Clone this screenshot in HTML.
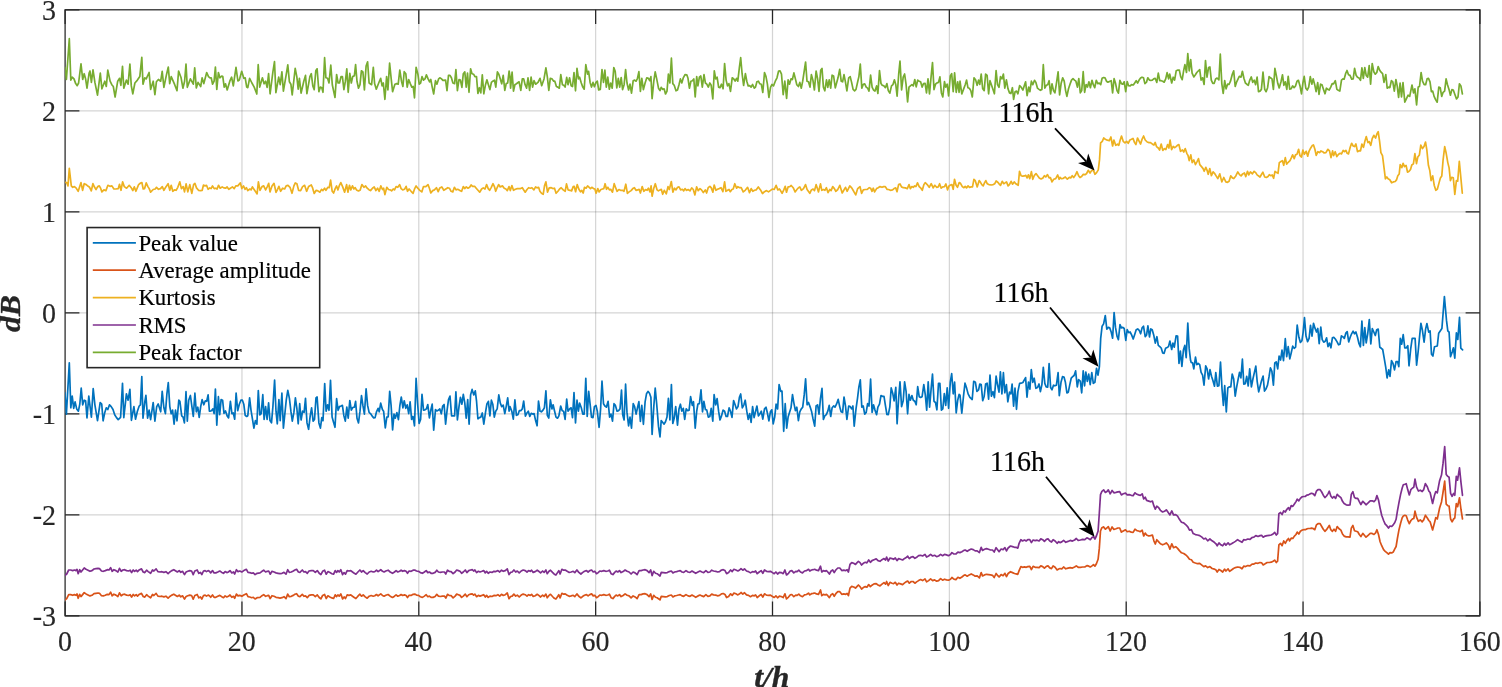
<!DOCTYPE html>
<html lang="en"><head><meta charset="utf-8"><title>Feature trends</title>
<style>html,body{margin:0;padding:0;background:#fff;overflow:hidden}svg{display:block}</style></head>
<body>
<svg width="1502" height="687" viewBox="0 0 1502 687" font-family="'Liberation Serif', serif">
<rect x="0" y="0" width="1502" height="687" fill="#fff"/>
<path d="M241.95 9.8V615.85M418.80 9.8V615.85M595.65 9.8V615.85M772.50 9.8V615.85M949.35 9.8V615.85M1126.20 9.8V615.85M1303.05 9.8V615.85" stroke="#262626" stroke-opacity="0.2" stroke-width="1.2" fill="none"/>
<path d="M65.1 514.84H1479.9M65.1 413.83H1479.9M65.1 312.83H1479.9M65.1 211.82H1479.9M65.1 110.81H1479.9" stroke="#262626" stroke-opacity="0.2" stroke-width="1.2" fill="none"/>
<rect x="65.1" y="9.8" width="1414.8000000000002" height="606.0500000000001" fill="none" stroke="#262626" stroke-width="1.25"/>
<path d="M241.95 615.85v-14.3M241.95 9.8v14.3M418.80 615.85v-14.3M418.80 9.8v14.3M595.65 615.85v-14.3M595.65 9.8v14.3M772.50 615.85v-14.3M772.50 9.8v14.3M949.35 615.85v-14.3M949.35 9.8v14.3M1126.20 615.85v-14.3M1126.20 9.8v14.3M1303.05 615.85v-14.3M1303.05 9.8v14.3M65.1 514.84h14.3M1479.9 514.84h-14.3M65.1 413.83h14.3M1479.9 413.83h-14.3M65.1 312.83h14.3M1479.9 312.83h-14.3M65.1 211.82h14.3M1479.9 211.82h-14.3M65.1 110.81h14.3M1479.9 110.81h-14.3M65.1 615.85h14.3M65.1 615.85v-14.3M65.1 9.8h14.3M65.1 9.8v14.3M1479.9 9.8h-14.3M1479.9 9.8v14.3M1479.9 615.85h-14.3M1479.9 615.85v-14.3" stroke="#262626" stroke-width="1.25" fill="none"/>
<clipPath id="c"><rect x="65.1" y="9.8" width="1414.8000000000002" height="606.0500000000001"/></clipPath>
<g clip-path="url(#c)" fill="none" stroke-width="1.7" stroke-linejoin="round" stroke-linecap="round">
<path d="M64.9 392.6L66.4 414.1L69.3 362.9L70.8 407.8L72.2 396.1L73.7 408.3L75.1 401.9L76.7 408.9L78.4 411.2L79.8 404.2L81.2 388.2L82.7 404.8L84.2 400.2L85.6 400.8L87.0 417.9L88.8 396.1L90.0 406.0L91.4 417.1L93.2 388.5L94.9 404.8L97.5 420.6L100.2 402.5L101.7 404.0L103.1 420.8L104.8 412.4L106.3 407.8L107.8 409.5L109.5 404.8L111.2 406.6L113.0 409.5L114.7 414.7L116.5 417.6L118.2 419.6L120.6 417.3L122.5 383.3L123.8 417.6L126.4 393.8L128.1 400.2L129.9 389.4L131.4 420.3L133.9 406.6L135.5 419.2L137.4 411.2L139.2 406.0L140.4 404.8L141.8 376.6L143.0 418.2L144.8 401.9L145.9 395.3L147.6 418.2L149.1 410.1L150.6 419.6L153.2 402.5L154.9 421.1L156.7 406.6L158.2 404.0L159.6 408.3L160.7 411.8L162.2 391.4L163.9 407.8L165.4 413.6L166.9 393.8L168.3 382.7L169.8 406.6L171.2 413.8L172.6 410.1L174.1 424.1L175.5 410.1L177.0 420.8L178.8 400.2L179.9 401.3L181.7 415.9L183.1 417.1L184.4 422.9L186.0 391.7L187.3 421.1L188.7 400.2L190.4 395.5L191.9 406.6L193.3 416.5L194.9 393.2L196.3 411.8L197.8 407.2L199.2 417.3L200.7 406.6L202.1 399.6L203.8 404.8L205.3 400.8L206.7 401.3L208.1 394.9L209.4 411.2L210.0 411.2L211.4 410.7L212.9 408.9L214.1 413.6L215.4 389.1L216.8 425.2L218.4 396.7L219.7 414.7L221.1 399.6L222.6 400.2L224.0 413.3L225.5 411.0L227.2 415.9L228.6 417.9L230.4 401.3L231.9 413.6L233.3 413.0L234.7 419.2L236.1 393.2L237.7 410.7L239.3 404.2L240.9 400.2L242.4 400.2L243.8 404.2L245.2 415.3L246.7 416.5L247.8 415.7L249.6 397.9L251.0 410.1L252.5 419.4L253.9 428.1L255.4 420.6L256.9 424.1L258.3 390.5L259.8 415.0L261.2 413.6L262.8 394.7L264.1 419.4L265.6 406.6L267.1 419.4L268.6 402.9L270.0 420.6L271.5 422.9L272.9 406.6L274.6 380.0L276.0 411.2L277.3 423.8L278.9 399.6L280.2 420.6L281.9 393.2L283.4 428.1L286.3 399.6L287.8 390.3L289.4 398.4L290.9 411.2L292.3 421.1L293.9 412.4L295.4 397.9L296.8 407.8L298.2 423.8L299.7 403.7L301.1 420.0L302.6 411.2L304.1 412.4L305.5 398.4L307.0 422.9L308.6 429.3L310.2 415.9L311.6 407.8L313.1 421.1L314.5 419.4L316.0 397.9L317.1 397.0L318.9 422.9L320.4 428.1L321.8 417.6L323.0 420.6L324.7 383.5L326.1 411.2L327.6 404.8L329.0 410.3L330.5 380.4L332.1 417.1L333.4 421.7L335.0 427.3L336.6 398.7L338.1 410.3L339.5 406.6L341.0 406.0L342.4 405.4L343.9 415.9L345.3 421.1L346.8 407.2L348.2 418.2L349.8 400.5L351.3 410.1L352.7 407.5L354.4 407.2L355.6 401.3L357.0 418.2L358.5 422.9L360.0 411.2L361.5 395.5L362.9 405.4L364.4 414.1L366.1 388.8L367.6 405.4L369.1 412.4L370.7 413.8L372.2 416.1L373.7 417.9L375.1 417.6L376.5 411.8L378.1 408.3L379.2 411.8L380.7 403.1L382.4 409.5L383.6 411.2L385.3 427.9L386.8 417.1L388.2 416.8L389.7 391.4L391.1 405.4L392.6 429.9L394.0 414.1L395.3 418.2L396.9 412.6L398.4 419.6L399.9 405.4L401.3 397.0L402.9 407.8L404.2 400.8L405.8 408.3L407.2 404.8L408.7 413.6L410.1 401.9L411.6 419.4L413.0 416.5L414.5 425.8L416.1 378.4L417.6 403.1L419.1 423.5L420.6 419.4L422.0 394.4L423.5 410.1L425.0 409.8L426.4 408.9L427.8 404.6L429.4 417.9L430.8 410.1L432.2 404.2L433.7 430.2L435.5 409.5L436.9 411.0L438.6 410.1L439.8 408.9L441.3 413.8L442.7 406.0L444.1 404.5L445.6 424.1L447.1 410.1L448.5 399.6L450.0 396.1L451.6 415.9L453.2 415.9L454.6 415.9L455.9 391.8L457.4 420.0L459.0 406.6L460.4 397.3L461.9 404.2L463.3 394.4L464.8 403.1L466.2 418.2L467.7 399.6L469.1 424.1L470.6 394.9L472.1 389.4L473.8 394.9L475.3 390.9L476.5 400.8L477.9 418.8L479.4 417.6L480.8 417.1L482.3 413.0L483.8 424.1L485.5 412.4L486.9 404.0L488.4 401.3L489.9 415.9L491.4 400.2L492.8 404.2L494.3 417.1L495.7 411.2L497.2 408.9L498.8 394.9L500.3 403.1L501.7 406.6L503.2 405.2L504.8 413.6L506.2 406.6L507.7 397.9L509.1 411.2L510.0 406.6L511.8 411.2L513.3 419.2L514.9 399.9L516.4 415.3L517.9 414.7L519.3 410.7L520.8 410.7L522.3 408.9L523.7 401.0L525.4 416.1L526.9 413.0L528.3 411.2L529.8 416.5L531.2 413.3L532.7 414.1L534.1 413.6L535.6 420.6L537.1 425.8L538.5 401.0L540.0 411.2L541.4 411.8L543.0 410.1L544.4 407.8L545.9 390.9L547.3 415.3L548.8 418.0L550.4 399.9L551.9 408.9L553.1 404.8L554.6 411.2L556.0 417.1L557.5 418.2L558.9 415.9L560.7 406.0L562.2 410.7L563.6 411.2L565.1 419.4L566.7 399.0L568.0 411.2L569.6 408.9L571.1 407.8L572.5 417.6L574.0 392.6L575.5 422.9L577.0 400.2L578.4 411.2L579.6 403.1L581.3 407.8L582.8 414.1L584.2 414.1L585.8 378.4L587.2 416.5L588.7 391.4L590.1 404.2L591.5 417.1L593.0 417.6L594.4 406.6L596.0 405.4L597.3 411.2L599.1 427.3L600.6 408.9L602.0 381.2L603.5 403.7L604.9 406.0L606.4 407.2L608.1 401.3L609.6 417.1L611.0 414.1L612.5 421.1L614.0 403.7L615.4 405.4L617.1 411.2L618.5 410.7L620.0 408.9L621.5 390.1L622.7 414.7L624.1 420.0L625.6 384.2L627.0 412.4L628.6 425.8L630.0 417.1L631.5 428.1L633.2 403.7L634.6 406.6L636.1 414.1L637.5 407.8L638.9 401.7L640.4 421.4L641.8 405.4L643.4 424.3L645.1 401.9L646.5 393.8L648.0 391.4L649.5 393.2L650.9 397.3L652.1 434.5L653.8 406.6L655.2 388.2L656.7 404.2L658.5 426.4L660.0 436.9L661.2 420.6L662.6 422.3L664.1 424.1L665.5 421.7L667.0 417.1L668.4 398.4L669.9 420.0L671.4 384.5L672.8 423.5L674.2 418.2L675.7 406.6L677.5 425.2L679.0 408.9L680.4 404.2L681.8 411.2L683.3 408.3L684.7 419.4L686.2 408.9L687.7 410.7L689.1 410.1L690.6 396.7L692.3 405.4L693.5 401.7L695.2 428.1L696.7 411.2L697.9 404.0L699.4 403.7L701.0 389.9L702.5 411.8L703.9 401.3L705.4 409.5L706.8 410.1L708.3 417.1L709.8 416.5L711.2 408.3L712.8 421.1L714.1 394.7L715.7 404.8L717.1 398.7L718.6 411.2L720.0 420.0L721.5 415.9L723.1 410.1L724.6 411.2L726.1 416.5L727.5 416.5L729.1 407.8L730.5 411.2L732.0 417.3L733.6 400.5L735.1 404.8L736.5 408.9L738.0 406.6L739.4 397.3L740.7 394.0L742.3 407.8L743.9 404.8L745.2 400.2L746.8 411.2L748.2 419.4L749.7 413.6L751.1 422.3L752.6 406.6L754.1 417.6L755.5 411.8L756.9 406.0L758.4 415.9L759.8 414.1L761.3 411.2L762.8 419.2L764.5 408.9L766.0 407.2L767.4 413.0L768.9 420.8L770.4 411.8L771.8 409.8L773.2 423.8L774.7 417.1L776.1 404.2L777.6 408.9L779.1 384.5L780.8 391.4L782.0 391.2L783.7 431.3L785.2 403.7L786.7 428.1L788.1 417.1L789.5 412.4L791.0 407.8L792.5 394.7L793.9 403.1L795.4 410.7L796.8 407.2L798.4 420.6L799.8 411.8L801.3 408.9L802.7 407.2L804.2 394.9L805.6 378.9L807.1 404.8L808.5 402.5L810.0 406.6L811.5 411.2L812.9 418.2L814.7 426.1L816.1 406.0L817.6 404.8L819.0 414.1L820.5 398.4L822.0 388.3L823.4 419.4L824.8 415.9L826.3 414.7L827.8 411.2L829.2 405.4L830.7 416.5L832.1 407.8L833.6 406.0L835.0 407.2L836.5 404.2L838.2 399.4L839.7 406.6L841.1 411.8L842.6 412.4L844.0 397.0L845.5 406.0L846.9 419.4L848.7 406.0L850.2 406.6L851.6 408.9L852.9 406.0L854.2 426.1L856.0 408.9L857.5 398.4L858.9 386.8L860.3 379.8L861.8 407.2L863.2 406.0L864.7 414.1L866.2 412.4L867.6 403.7L869.0 406.0L870.6 379.2L872.1 412.4L873.5 404.8L875.0 410.1L876.6 414.7L877.9 407.2L879.5 404.2L881.0 395.5L882.4 396.3L884.0 396.3L885.4 405.4L886.9 414.5L888.3 414.7L889.8 407.2L891.2 387.9L892.7 393.2L894.1 400.8L895.8 387.4L897.1 423.8L898.7 397.3L900.0 381.9L901.6 406.6L903.2 400.8L904.6 381.9L906.1 391.4L907.6 413.8L909.0 394.4L910.4 400.2L911.9 395.5L913.3 400.2L914.8 401.3L916.2 404.8L917.7 386.6L919.2 396.7L920.6 397.5L922.1 396.7L923.8 384.7L925.3 394.9L926.7 410.1L928.2 381.9L929.6 407.2L931.1 389.1L932.5 374.2L934.0 401.3L935.5 402.5L936.9 409.8L938.5 383.3L939.9 383.3L941.4 410.1L942.8 408.9L944.3 393.5L945.7 405.4L947.2 387.9L948.6 408.3L950.3 382.1L951.7 373.7L953.2 393.8L954.6 382.1L956.2 413.0L957.7 400.2L959.1 394.4L960.0 395.1L961.8 413.1L963.5 396.2L965.0 383.2L966.6 388.1L968.1 393.9L969.9 397.4L972.2 399.5L973.7 381.3L975.4 382.3L976.9 391.4L978.6 389.8L979.8 384.0L981.2 384.6L982.7 400.7L984.2 396.2L985.6 384.0L987.1 383.2L988.6 399.1L990.0 375.1L991.4 396.2L993.0 391.6L994.4 397.6L996.1 376.2L997.5 384.6L999.0 392.2L1000.4 371.8L1001.9 393.9L1003.4 372.7L1004.8 392.8L1006.4 384.6L1007.8 401.8L1009.5 392.2L1010.9 393.9L1012.1 384.0L1013.6 406.1L1015.0 388.1L1016.5 409.3L1017.9 391.6L1019.6 383.4L1021.1 383.2L1022.9 382.5L1024.6 379.4L1025.6 377.6L1027.0 397.2L1028.5 382.0L1029.9 389.2L1031.3 369.5L1032.8 382.3L1034.2 378.2L1035.9 388.3L1037.5 387.5L1039.0 384.0L1040.4 391.6L1041.9 384.6L1043.3 367.4L1044.8 383.4L1046.2 386.9L1047.7 387.2L1049.1 363.6L1050.6 387.5L1052.0 389.8L1053.5 385.2L1054.9 385.8L1056.4 385.2L1058.1 372.7L1059.3 395.7L1061.0 382.3L1062.5 376.7L1064.0 377.0L1065.4 382.3L1066.9 393.0L1068.3 392.2L1069.8 384.6L1071.2 378.2L1072.7 376.7L1074.1 375.5L1075.6 370.9L1077.3 386.9L1078.6 379.7L1080.3 381.1L1081.7 392.8L1083.2 370.9L1084.6 385.8L1085.8 372.0L1087.3 381.3L1088.7 374.1L1090.2 384.6L1091.8 372.7L1093.3 383.4L1094.9 382.3L1096.5 368.3L1098.0 375.1L1099.4 366.6L1100.7 338.4L1102.1 326.2L1103.6 323.9L1105.3 315.5L1106.8 329.1L1108.3 327.4L1109.7 327.9L1111.2 332.0L1112.6 338.2L1114.1 312.6L1115.5 327.4L1117.0 336.1L1118.4 339.6L1120.0 324.5L1121.3 327.9L1122.9 327.4L1124.2 328.5L1125.8 340.5L1127.2 329.7L1128.7 332.6L1130.1 332.0L1131.6 334.9L1133.2 339.0L1134.7 334.4L1136.2 329.7L1137.7 328.9L1139.2 330.3L1140.6 333.8L1142.1 327.9L1143.5 326.2L1145.2 336.7L1146.6 334.9L1147.9 325.9L1149.5 337.0L1150.8 328.9L1152.2 329.7L1153.7 334.9L1155.3 343.1L1156.9 336.7L1158.3 345.4L1159.8 346.6L1161.2 348.0L1162.7 353.0L1164.1 353.3L1165.6 348.3L1167.1 347.5L1168.5 346.6L1169.9 341.0L1171.7 349.5L1172.9 343.1L1174.3 347.2L1176.1 335.9L1177.6 336.1L1179.0 363.5L1180.4 351.2L1181.9 366.4L1183.4 350.1L1184.8 345.4L1186.2 357.6L1187.8 323.1L1189.2 348.9L1190.6 360.6L1191.2 362.4L1192.6 362.9L1193.8 368.8L1195.5 357.1L1196.8 364.7L1198.2 363.5L1199.7 364.7L1201.1 372.3L1202.6 375.2L1204.0 385.1L1205.7 365.9L1207.1 368.8L1208.6 379.0L1210.0 369.7L1211.5 376.3L1212.9 380.4L1214.5 386.2L1215.8 372.5L1217.4 386.2L1218.9 385.7L1220.5 362.0L1222.0 388.6L1223.4 405.5L1224.7 385.7L1226.3 411.9L1227.8 388.0L1229.2 386.8L1230.8 386.8L1232.2 374.0L1233.7 379.0L1235.2 396.1L1236.6 387.4L1238.0 379.8L1239.5 372.3L1240.9 377.9L1242.4 359.2L1243.8 384.1L1245.3 383.7L1246.7 376.3L1248.2 386.0L1249.7 368.8L1251.4 386.8L1252.9 379.0L1254.3 372.9L1255.8 366.2L1257.2 381.6L1258.7 391.8L1260.1 386.2L1261.6 380.4L1263.1 376.0L1264.5 391.1L1265.9 389.1L1267.5 385.1L1269.0 376.9L1270.4 367.8L1271.9 371.3L1273.4 385.1L1274.8 362.9L1276.2 361.8L1277.7 368.8L1279.1 356.0L1280.6 360.0L1282.0 350.1L1283.5 360.6L1285.3 338.7L1286.7 356.6L1288.2 346.6L1289.8 358.9L1291.3 352.5L1292.7 346.1L1294.2 348.4L1295.6 347.2L1297.2 325.0L1298.9 337.3L1300.4 342.5L1301.9 340.8L1303.1 332.6L1304.5 317.7L1306.0 336.1L1307.6 341.7L1309.1 338.4L1310.5 325.4L1312.0 336.1L1313.5 323.3L1314.9 327.9L1316.5 332.0L1317.8 328.5L1319.2 343.7L1320.8 327.0L1322.2 339.6L1323.7 342.2L1325.2 341.3L1326.6 337.9L1328.0 346.6L1329.5 343.1L1330.9 347.8L1332.4 337.9L1333.8 337.3L1335.3 339.0L1337.1 341.9L1338.6 344.8L1340.0 344.2L1341.4 335.9L1342.9 336.7L1344.3 338.4L1345.8 333.2L1347.2 331.7L1348.7 341.9L1350.2 337.3L1351.6 333.8L1353.1 331.2L1354.5 333.8L1355.9 332.0L1357.5 337.3L1359.0 343.7L1360.4 346.8L1361.9 321.0L1363.4 345.4L1364.8 327.7L1366.2 342.9L1367.7 333.8L1369.3 319.6L1370.8 344.0L1372.3 328.5L1373.8 332.0L1375.3 335.5L1376.7 329.7L1378.2 329.1L1379.8 347.2L1381.3 348.3L1382.7 349.5L1384.2 358.2L1385.8 367.6L1387.1 378.0L1388.7 369.9L1390.0 376.3L1391.5 360.6L1393.0 363.5L1394.5 369.9L1396.1 361.5L1397.6 361.7L1398.8 366.6L1400.3 338.4L1401.7 344.2L1403.2 334.7L1404.8 348.0L1406.4 347.8L1407.8 345.6L1409.0 365.8L1410.7 348.9L1412.2 338.4L1413.6 338.4L1415.1 338.4L1416.6 365.2L1418.2 351.2L1419.5 337.3L1420.9 323.3L1422.4 330.3L1424.1 342.2L1425.6 329.1L1426.9 323.5L1428.7 332.2L1430.1 330.8L1431.5 354.3L1432.9 356.1L1434.5 346.7L1437.3 346.0L1438.7 333.2L1441.9 328.5L1444.4 296.6L1446.5 320.4L1447.8 330.8L1449.1 332.2L1450.5 356.7L1452.3 351.6L1453.4 347.8L1454.8 358.1L1456.4 332.9L1457.8 339.5L1459.5 317.4L1460.8 348.1L1462.6 349.8" stroke="#0072bd"/>
<path d="M65.1 599.9L66.7 598.6L68.7 594.6L70.7 594.6L72.7 595.3L74.4 594.6L76.0 595.3L77.0 593.9L78.2 598.3L79.7 594.3L81.0 596.6L82.6 594.6L84.2 592.6L86.0 593.9L88.0 594.9L90.0 595.9L92.0 595.3L94.0 593.7L96.0 593.3L98.0 593.0L99.5 593.3L101.5 595.7L103.3 595.9L105.3 595.3L107.3 594.3L109.0 594.6L110.6 592.2L112.2 595.8L113.9 594.2L115.9 595.1L117.9 596.5L119.5 592.9L121.2 595.8L122.8 594.5L124.6 594.2L126.6 595.1L128.6 595.5L130.2 594.7L131.6 597.1L133.2 594.5L134.6 595.8L136.2 594.7L137.5 596.1L139.5 594.2L141.5 593.4L143.2 596.5L144.8 597.1L146.6 594.7L148.2 596.1L150.6 597.8L152.5 594.5L153.9 595.5L156.1 593.4L157.9 596.1L159.9 596.5L161.9 596.2L163.9 596.9L165.9 596.2L168.1 598.2L169.8 596.5L171.8 595.1L173.8 594.2L175.8 595.5L177.4 596.5L179.2 595.1L180.8 596.9L182.5 595.8L184.5 599.1L186.1 596.5L187.8 595.8L189.8 595.1L191.6 595.5L193.2 599.1L194.8 595.5L197.2 594.5L198.8 597.8L200.5 596.9L201.8 599.1L203.5 595.5L205.1 595.1L206.5 596.1L208.1 595.1L209.4 595.8L210.7 597.3L212.5 595.0L214.1 597.3L215.8 597.3L217.8 596.3L219.8 595.4L221.8 596.7L223.5 597.7L225.1 595.9L226.8 597.0L228.4 596.3L230.0 595.0L231.8 597.3L233.5 596.3L234.7 598.3L236.4 594.1L238.0 595.9L239.8 595.4L241.8 596.3L243.8 595.0L246.4 593.7L248.0 596.7L249.8 597.0L251.7 597.7L253.3 597.3L255.1 599.0L257.1 597.7L260.0 597.3L262.0 595.7L263.7 594.6L265.6 596.3L267.3 595.7L268.7 595.4L270.2 598.6L272.0 595.7L274.0 596.3L276.0 597.3L278.0 597.7L280.0 598.1L282.0 597.7L284.0 596.7L286.0 598.6L287.7 594.1L289.3 596.7L291.3 596.3L293.3 595.4L294.9 594.3L296.6 593.7L298.4 596.3L299.9 596.7L302.3 594.3L303.9 596.3L305.5 595.9L307.3 597.7L309.0 595.4L311.3 594.9L313.3 594.9L315.3 596.6L317.3 594.9L319.2 597.5L320.9 598.9L322.6 595.5L324.6 594.5L326.2 598.5L327.9 595.8L329.9 596.9L331.9 597.9L333.6 598.5L335.2 594.9L336.6 596.6L337.9 594.9L339.2 596.2L340.8 593.9L342.6 598.9L344.1 596.9L345.5 598.5L347.2 594.9L348.9 595.3L350.8 594.9L352.5 596.2L354.3 597.5L355.9 598.5L357.9 596.2L359.9 594.2L361.5 596.2L363.2 594.9L365.2 596.9L367.2 598.2L369.2 596.2L371.2 595.5L373.2 596.2L374.8 595.8L376.5 594.5L378.1 595.8L380.8 593.9L382.5 595.5L384.1 596.2L385.8 595.3L388.1 594.5L390.2 596.2L392.5 597.5L394.5 596.2L396.1 594.9L397.8 596.2L399.6 595.5L401.1 594.5L402.7 595.5L404.5 594.9L406.1 595.5L407.5 597.5L409.1 595.3L411.1 595.4L413.1 594.3L414.7 594.1L416.5 595.1L418.5 595.4L420.4 596.7L422.4 597.4L424.4 596.1L426.2 594.7L427.8 596.7L429.4 596.1L431.1 597.4L433.1 597.4L435.1 596.5L436.8 594.3L438.4 596.1L440.4 596.5L442.4 596.1L444.4 596.1L445.8 598.1L447.5 594.3L449.1 595.4L451.1 595.7L453.1 597.8L455.1 596.1L456.7 594.1L458.4 594.7L460.0 595.4L461.6 597.4L463.3 596.1L465.3 594.1L466.9 596.7L468.7 594.7L470.6 594.1L472.2 593.8L473.6 595.1L474.9 594.1L476.6 596.7L478.4 595.4L480.0 596.1L482.0 595.4L483.7 594.7L485.3 597.0L486.6 595.4L488.2 597.4L490.0 596.1L492.0 596.5L493.9 595.4L495.9 595.7L497.9 594.7L499.7 596.1L501.5 594.3L503.3 595.4L505.3 594.7L507.3 593.0L509.0 598.7L510.6 596.5L512.2 596.1L513.9 594.1L515.7 596.1L517.3 595.1L519.2 597.0L521.2 595.1L523.2 594.1L525.2 594.7L527.0 596.1L528.6 594.7L530.3 595.4L531.6 594.3L533.2 596.5L535.2 595.7L537.2 594.3L538.8 595.4L540.6 597.0L542.6 595.1L544.1 596.5L545.9 594.1L547.2 597.8L549.0 595.4L550.5 594.3L552.5 596.5L554.3 598.3L555.9 599.1L557.5 596.7L558.8 594.7L560.1 597.9L561.9 593.3L563.6 594.2L565.2 593.9L567.2 595.3L569.2 596.3L571.2 595.9L573.2 595.3L574.8 596.6L576.9 593.9L578.8 596.3L580.9 597.9L582.8 596.3L584.5 595.3L586.5 594.6L588.1 595.9L589.8 594.6L591.6 593.9L593.2 595.9L594.8 595.3L596.5 597.7L598.2 596.6L599.8 595.0L601.8 595.3L603.8 594.6L605.8 595.3L607.8 595.0L609.4 594.2L611.1 597.7L612.9 598.6L614.5 596.6L616.1 595.0L617.8 595.9L619.5 594.6L621.1 596.6L623.1 595.5L625.1 593.9L627.1 595.3L629.1 595.9L631.1 597.9L633.1 595.9L635.1 596.9L637.1 598.6L639.1 594.6L641.1 594.6L643.1 593.9L645.1 593.7L647.1 594.6L649.1 596.6L650.7 593.9L652.1 599.5L653.7 595.3L655.5 597.3L657.1 597.7L660.0 599.9L661.3 596.3L663.3 596.6L665.3 596.9L667.3 596.6L669.3 595.5L671.3 595.0L672.9 596.9L674.6 595.9L676.6 595.5L678.6 595.0L680.2 594.6L682.0 595.9L683.7 596.3L686.0 594.6L688.0 595.9L690.0 596.3L692.0 595.0L693.6 595.9L695.7 597.3L698.0 595.9L700.0 595.0L701.9 595.9L703.7 596.6L705.9 594.6L707.9 596.3L709.9 595.9L711.7 594.1L713.5 594.9L715.7 595.1L717.5 595.8L719.5 595.4L721.5 593.8L723.2 593.5L725.0 594.5L726.6 597.5L728.6 596.5L730.6 593.8L732.2 595.4L733.9 593.1L735.9 593.8L737.9 594.9L739.6 593.8L741.0 592.5L742.8 594.1L744.5 592.7L746.5 594.9L748.5 595.4L750.5 596.7L752.5 595.4L754.3 595.8L755.6 594.9L757.2 597.5L759.2 595.8L761.2 594.5L762.8 597.1L764.5 593.8L766.5 595.1L768.5 595.4L770.5 595.1L772.5 596.5L774.2 597.5L775.9 595.8L777.6 597.8L779.4 596.2L781.2 596.5L783.2 597.5L784.9 593.8L786.5 598.9L788.5 597.1L790.2 594.9L791.8 594.5L793.8 596.7L795.8 595.1L797.1 595.4L798.8 594.1L800.5 595.8L802.5 596.7L804.5 594.9L806.5 594.5L808.5 593.1L809.8 594.9L811.5 593.7L813.1 593.4L814.7 593.0L816.5 593.9L818.5 594.3L820.5 590.0L821.8 595.7L823.5 594.3L825.1 595.0L826.4 594.3L827.8 595.7L829.4 597.7L831.1 594.7L832.7 593.7L834.2 596.3L835.8 593.7L837.8 591.7L839.8 591.7L841.8 594.3L843.8 593.9L845.8 594.3L847.1 593.4L848.4 595.7L850.0 588.1L851.7 586.4L853.7 587.0L855.5 588.1L857.1 586.4L858.4 585.0L860.0 586.6L861.6 589.0L863.3 587.6L865.3 586.6L866.9 587.2L868.7 584.6L870.4 586.6L872.0 585.2L874.0 583.9L876.2 583.6L878.0 585.0L880.0 585.9L882.0 584.2L884.0 582.6L885.6 584.2L886.6 581.5L888.2 585.5L890.0 582.3L892.0 583.2L893.6 583.6L895.3 582.3L897.0 585.0L898.6 583.2L900.6 583.9L902.6 584.6L904.6 582.9L906.6 581.5L907.7 581.0L909.3 583.2L911.3 581.5L913.0 581.5L914.9 583.2L916.6 581.9L918.6 580.6L920.6 579.6L922.6 580.6L925.0 578.9L926.6 581.9L928.6 580.6L930.6 578.9L932.6 580.6L934.6 579.9L936.6 581.2L938.6 580.6L940.6 578.6L942.6 580.2L944.5 579.2L946.5 579.9L948.5 580.2L950.5 579.2L951.9 577.5L953.9 579.2L955.9 579.6L957.9 577.3L959.9 578.3L961.9 577.0L963.9 575.3L965.2 574.9L967.2 576.2L969.2 574.9L971.2 573.9L973.2 574.9L975.2 576.2L977.2 575.9L979.4 577.9L981.2 572.6L982.5 575.9L984.5 574.9L986.5 574.3L988.5 574.6L990.5 574.9L992.5 575.3L994.2 577.5L996.1 573.5L997.8 575.7L999.1 577.0L1001.1 574.6L1003.1 575.7L1004.9 573.3L1006.5 576.6L1008.1 573.5L1010.5 571.7L1012.5 572.6L1014.5 573.5L1016.1 573.9L1017.8 574.3L1019.1 570.6L1020.9 566.6L1022.5 567.3L1024.5 566.9L1026.2 567.3L1027.8 566.6L1029.8 566.3L1031.4 569.5L1033.1 566.3L1035.1 567.3L1037.1 567.3L1039.1 567.7L1040.8 565.9L1042.7 566.6L1044.4 568.2L1046.4 566.3L1048.0 565.9L1049.8 567.9L1051.5 568.6L1053.1 565.9L1055.1 567.3L1057.1 569.9L1058.7 569.0L1060.0 568.5L1061.8 568.8L1063.6 567.0L1065.8 568.8L1068.0 568.1L1070.2 567.6L1072.4 568.1L1074.6 567.0L1076.3 565.9L1078.2 567.3L1080.4 567.3L1082.6 567.0L1084.8 567.0L1086.9 565.6L1088.4 565.9L1090.3 567.0L1092.0 565.9L1093.5 564.7L1094.9 566.2L1096.4 563.7L1098.1 559.3L1099.3 548.4L1100.5 531.0L1101.9 527.7L1103.7 526.9L1105.4 529.2L1106.9 528.0L1108.3 526.6L1110.2 531.0L1112.1 526.9L1113.9 529.5L1116.0 528.8L1117.9 528.0L1119.7 528.0L1121.4 532.1L1123.3 531.0L1125.5 529.8L1127.2 531.7L1129.1 531.2L1131.3 532.1L1133.1 532.4L1135.0 529.2L1136.9 530.7L1138.6 531.0L1140.3 531.7L1142.2 530.2L1143.7 536.0L1145.2 533.1L1146.6 535.0L1148.8 536.0L1150.5 535.6L1152.4 535.0L1153.9 540.8L1155.3 544.0L1156.8 539.7L1158.7 541.9L1160.4 543.8L1162.6 544.8L1164.5 544.0L1166.3 542.9L1168.4 545.2L1169.9 549.1L1171.8 543.8L1173.5 547.7L1175.7 546.7L1177.6 548.4L1179.4 550.6L1181.5 552.8L1183.7 553.5L1185.9 555.0L1187.8 556.9L1189.5 559.3L1191.4 559.8L1193.2 562.2L1195.4 563.0L1197.5 563.7L1199.7 563.3L1201.9 565.1L1203.8 566.6L1205.6 565.9L1207.7 567.6L1209.9 566.6L1212.1 568.5L1214.3 569.1L1216.0 570.0L1217.2 572.0L1219.0 569.5L1220.8 570.5L1222.7 572.0L1224.5 569.1L1225.9 571.0L1228.1 568.8L1229.6 571.4L1231.5 570.0L1233.5 568.5L1235.4 567.6L1237.6 567.0L1239.8 567.3L1242.0 568.8L1243.7 566.2L1245.6 566.6L1247.8 565.6L1250.0 565.9L1252.1 564.1L1253.9 564.1L1255.8 563.0L1258.0 563.3L1260.0 562.5L1261.6 562.8L1263.2 564.9L1265.1 563.8L1267.2 562.5L1269.3 562.5L1271.2 562.2L1273.1 561.2L1274.7 560.1L1276.3 562.5L1277.6 561.2L1278.9 544.9L1280.5 543.3L1282.1 545.7L1283.7 540.9L1285.3 543.3L1286.9 540.4L1288.5 538.5L1289.6 540.9L1291.2 538.2L1292.8 538.5L1294.4 536.1L1296.0 534.5L1297.2 532.1L1298.8 534.0L1300.4 531.3L1302.0 530.1L1303.6 529.7L1305.2 529.7L1306.8 528.9L1308.4 528.5L1310.0 528.5L1311.6 528.1L1313.2 528.5L1314.8 529.7L1316.4 524.9L1318.0 523.7L1320.1 523.7L1321.7 526.5L1323.3 529.2L1324.9 531.3L1326.5 529.7L1328.1 527.3L1329.3 525.4L1330.8 529.7L1332.4 531.3L1334.0 529.2L1335.6 531.3L1337.2 526.5L1338.8 528.5L1340.9 530.1L1342.5 534.0L1344.1 536.1L1346.2 536.9L1348.1 536.9L1350.0 537.2L1351.3 528.1L1352.9 525.4L1354.5 530.8L1356.1 531.3L1357.7 531.8L1359.3 534.5L1360.9 536.6L1362.8 533.4L1364.4 535.3L1366.0 537.2L1368.1 535.3L1370.2 533.4L1372.1 533.4L1374.0 534.5L1375.6 532.9L1376.9 529.7L1378.5 534.5L1380.1 541.7L1381.7 545.7L1383.6 549.7L1385.2 551.3L1386.8 552.6L1388.5 554.2L1390.0 552.6L1391.7 552.9L1393.2 552.1L1394.8 548.9L1396.1 546.5L1397.4 538.5L1399.0 529.7L1400.6 523.3L1402.2 517.7L1403.3 516.1L1404.9 515.3L1406.2 515.7L1407.7 520.1L1409.3 523.7L1410.9 520.5L1412.5 518.9L1413.8 518.5L1415.0 511.2L1416.5 517.1L1418.4 521.3L1420.3 519.9L1422.2 521.8L1423.7 519.9L1425.4 515.2L1427.3 518.0L1428.8 520.5L1430.1 521.8L1432.6 530.0L1434.5 522.8L1435.8 517.5L1437.3 519.0L1439.6 508.0L1441.5 501.9L1443.0 492.5L1444.7 481.1L1446.2 504.2L1447.8 505.7L1449.1 506.1L1450.6 519.0L1452.1 521.8L1453.6 519.0L1454.8 518.0L1456.3 503.5L1457.6 506.7L1459.5 497.8L1461.0 509.5L1462.5 519.0" stroke="#d95319"/>
<path d="M65.1 182.3L66.7 182.6L68.0 185.9L69.3 168.4L71.3 185.9L72.7 187.3L74.4 186.6L76.0 187.9L78.2 191.3L81.0 182.6L82.6 190.3L84.2 183.7L86.2 184.6L88.2 186.3L89.6 187.3L91.3 190.9L92.9 183.7L94.6 187.3L96.0 189.5L97.7 186.6L99.3 185.9L100.6 188.2L101.9 191.9L103.9 189.9L105.9 190.6L107.9 185.3L109.9 186.3L111.9 185.9L113.9 189.0L115.9 189.0L118.3 188.6L119.5 184.3L121.0 190.3L122.6 181.9L124.3 186.6L126.6 188.2L129.2 185.3L131.2 187.7L132.8 190.6L134.3 186.9L135.9 191.3L138.6 184.6L140.6 183.0L141.9 182.6L143.2 189.0L144.6 188.6L146.2 182.9L147.9 186.6L149.2 188.6L150.6 192.2L153.2 189.5L155.2 189.0L156.5 187.3L158.5 189.3L160.5 188.6L162.3 186.6L163.9 190.3L165.9 186.9L168.1 183.7L169.8 190.3L171.2 185.3L172.8 191.3L174.5 189.9L176.1 190.3L177.8 187.3L179.8 181.9L181.4 188.6L183.2 186.6L184.5 191.9L186.1 183.9L187.8 191.9L189.8 184.6L191.8 193.3L193.6 184.6L194.9 183.3L196.5 187.9L198.5 190.3L200.5 190.6L202.2 190.3L203.5 185.0L205.1 185.9L206.5 185.3L208.1 189.3L209.8 187.9L211.1 188.6L212.5 185.9L214.2 188.6L215.8 188.2L217.1 189.0L218.5 185.3L220.2 188.2L222.2 186.9L223.8 187.9L225.8 188.2L227.1 186.9L228.8 189.3L230.4 188.2L232.4 186.9L234.2 188.6L235.8 185.9L237.8 185.9L240.4 182.9L241.8 188.6L243.5 185.9L245.1 189.3L246.4 187.7L247.8 190.6L249.8 189.0L251.1 189.9L252.4 186.9L254.1 189.5L257.1 193.9L258.4 181.9L260.0 190.3L262.0 186.6L263.7 185.9L265.6 189.9L267.3 186.6L268.7 183.3L270.0 191.9L272.0 185.9L274.0 183.3L276.0 192.3L277.6 189.3L278.9 186.3L280.6 191.3L282.6 188.2L284.6 189.0L286.2 185.9L288.0 185.3L290.0 187.3L292.0 193.3L293.9 185.9L295.3 182.9L296.9 183.7L298.6 190.3L300.6 190.6L302.6 186.6L304.6 185.3L306.6 191.3L308.6 186.6L311.3 185.0L312.6 187.9L314.2 193.5L316.2 190.3L317.9 190.9L319.9 192.2L321.5 189.3L322.9 190.6L324.6 188.2L325.9 190.3L327.9 187.3L329.2 187.7L330.6 180.2L332.2 191.3L333.6 193.0L335.2 188.6L336.6 185.9L337.9 189.9L339.2 185.9L340.8 182.6L342.6 186.6L344.6 192.2L346.6 184.6L347.9 192.2L349.5 185.3L350.8 189.9L352.5 185.9L353.9 189.0L355.2 187.7L356.5 189.9L358.5 190.9L360.1 190.3L361.9 184.6L363.9 187.3L365.6 185.9L367.2 188.2L369.2 189.9L370.5 190.6L372.5 188.2L374.2 186.9L375.9 190.6L377.6 188.2L379.2 191.3L380.8 185.9L382.5 189.5L383.6 188.2L384.9 194.6L386.8 187.3L388.5 189.5L390.2 189.9L391.6 190.9L393.2 189.0L394.5 189.9L396.1 186.6L397.8 187.3L399.6 184.6L401.1 188.6L402.7 189.9L404.5 189.3L406.1 186.3L407.5 191.3L409.1 189.0L411.1 191.3L413.1 193.3L414.7 188.6L416.1 185.9L417.8 188.2L419.8 190.3L421.8 191.9L423.5 186.6L425.8 186.6L428.0 184.6L429.4 188.2L430.8 193.0L432.7 190.6L434.4 189.9L436.4 187.7L438.2 191.7L439.8 187.9L441.8 186.9L443.8 190.3L445.8 189.0L447.8 187.7L449.4 188.2L451.1 191.3L452.8 191.9L454.4 187.3L456.0 189.9L457.7 189.3L460.0 190.6L461.6 191.3L463.3 186.6L464.7 188.6L466.3 186.9L468.0 188.2L469.6 187.3L471.1 185.0L472.6 186.3L474.6 186.3L476.2 188.2L478.0 190.3L479.7 192.2L481.6 189.0L483.3 187.9L485.0 189.0L486.6 184.6L488.2 188.6L489.6 190.3L491.3 187.3L493.0 183.7L494.4 186.6L495.7 191.3L497.3 187.3L498.6 184.6L500.2 186.9L502.6 185.9L504.2 188.2L505.9 189.0L507.3 190.6L509.0 186.6L510.3 190.6L511.9 185.5L513.5 190.3L515.3 189.3L517.3 188.6L519.2 188.6L520.6 188.6L522.3 187.7L523.9 190.3L525.2 192.2L527.0 189.5L528.6 187.7L530.3 188.2L531.9 187.7L533.9 189.9L535.6 186.9L537.0 187.9L538.6 187.3L539.9 191.3L541.5 193.3L543.2 194.3L544.5 185.9L545.9 181.9L547.5 192.2L549.2 187.9L551.2 187.7L552.9 188.6L554.5 188.2L556.1 193.3L557.9 191.3L559.6 189.0L561.2 187.7L563.2 189.9L565.2 191.3L566.5 183.9L568.1 189.9L569.9 190.3L571.6 190.9L573.2 186.6L574.2 186.3L575.6 191.7L577.2 184.6L578.9 189.3L580.5 191.9L581.8 190.3L583.2 193.0L584.5 187.3L586.1 188.2L587.6 185.9L589.2 187.3L590.5 188.6L591.8 187.3L593.6 188.6L594.9 189.0L596.1 193.3L597.8 188.6L599.1 191.9L600.9 189.5L602.5 189.0L603.8 188.6L605.1 183.7L606.5 189.3L607.8 187.3L609.4 189.9L610.7 189.3L612.5 192.2L614.2 183.7L615.8 188.2L617.1 191.3L618.9 189.5L620.5 190.3L622.5 190.3L624.0 191.3L625.8 184.2L627.4 193.3L629.1 191.9L631.1 190.6L632.8 188.6L634.4 187.7L636.0 190.3L637.8 189.9L639.1 189.3L640.4 193.0L642.2 186.6L643.8 191.3L645.5 189.5L647.1 190.3L648.4 188.2L650.0 191.9L651.1 185.9L652.1 196.2L653.7 188.6L655.3 183.7L657.1 189.9L658.4 190.9L660.0 189.9L661.3 189.3L662.7 194.3L664.3 190.3L666.3 193.9L668.0 186.6L669.3 189.5L671.3 181.5L672.9 192.2L674.4 188.2L676.0 189.9L677.6 187.3L679.0 186.9L680.6 189.9L682.4 189.3L683.7 190.9L685.0 188.6L686.6 190.3L688.2 189.5L690.0 190.9L691.7 187.9L693.3 189.5L694.9 194.9L696.6 186.9L698.2 190.6L700.0 188.6L701.5 189.9L703.3 192.6L705.3 189.9L706.6 193.0L708.2 187.7L709.9 186.3L711.3 187.9L712.9 192.2L714.2 185.0L715.9 190.3L717.5 189.3L719.2 188.6L721.0 187.7L722.9 191.7L724.6 181.9L725.9 191.3L727.6 190.3L729.0 189.5L730.3 191.7L731.9 189.5L733.2 189.0L734.8 183.7L736.6 188.2L737.9 186.6L739.6 187.7L741.2 187.7L743.2 191.9L745.2 190.3L747.6 187.3L749.5 192.6L751.2 188.6L752.8 191.3L754.5 190.3L756.1 189.9L758.3 186.9L760.5 189.9L762.5 193.5L764.5 191.7L766.5 190.6L768.5 191.9L770.2 190.6L772.5 189.0L774.2 189.5L776.1 185.3L777.8 189.9L779.4 189.0L780.5 190.6L782.1 193.3L783.8 189.9L785.2 186.3L786.5 192.2L788.1 186.9L789.8 186.6L791.2 185.5L793.2 187.7L795.1 191.9L797.1 189.3L798.5 187.7L799.8 186.9L801.4 190.3L803.5 188.6L805.5 184.6L807.1 189.5L809.8 193.3L811.4 189.9L813.1 189.0L814.5 190.6L816.1 184.6L818.5 191.9L820.5 183.9L821.8 190.3L823.5 189.5L824.9 190.3L826.4 187.7L828.0 192.6L829.8 189.5L831.1 190.6L832.7 186.6L834.4 188.6L835.8 191.3L837.8 189.5L839.8 185.3L842.2 193.0L843.8 190.3L845.5 187.3L847.1 191.3L849.8 185.9L851.7 187.9L853.7 191.3L855.7 194.9L857.7 188.6L860.0 186.6L861.6 193.3L863.3 189.9L865.3 189.5L867.3 189.3L869.3 187.7L870.6 188.2L872.0 191.3L873.3 188.2L874.6 191.9L876.6 188.6L878.2 187.7L880.0 186.6L882.0 187.3L883.7 186.6L885.3 186.6L887.0 189.3L888.6 189.5L890.4 190.3L892.6 189.9L894.6 188.2L895.7 187.9L897.0 191.7L898.6 184.6L900.0 183.9L901.5 186.9L903.3 187.7L905.3 187.9L907.3 188.6L909.0 184.6L910.3 188.6L911.9 186.6L913.3 187.3L914.6 185.9L915.9 186.6L917.5 182.9L919.2 186.6L920.9 188.2L922.3 190.3L923.9 184.6L925.2 182.6L927.2 184.6L929.2 187.3L931.2 183.7L933.2 187.9L934.8 185.3L936.6 187.3L938.3 186.9L939.6 183.7L941.2 188.2L942.8 186.9L944.5 186.6L945.9 183.9L947.5 189.9L949.0 185.9L950.5 185.0L951.9 184.6L953.2 189.3L954.5 179.3L956.1 185.3L957.5 187.3L959.2 182.6L960.5 183.3L962.3 186.6L963.9 187.7L965.2 186.3L966.5 187.9L968.1 185.9L969.5 187.3L971.2 186.9L972.5 186.9L973.9 179.3L975.2 180.6L977.2 186.9L979.2 180.6L980.5 182.3L981.8 184.6L983.2 185.9L984.5 182.9L985.8 180.6L987.2 183.7L988.9 184.6L991.2 185.0L993.2 184.6L994.8 183.7L996.1 181.0L997.8 182.3L999.1 183.9L1000.5 185.3L1002.2 181.3L1003.8 183.7L1005.1 182.9L1006.5 181.9L1008.1 185.9L1009.4 184.6L1011.1 181.3L1012.5 184.2L1014.2 181.9L1015.8 183.7L1018.2 185.3L1019.5 171.3L1021.1 175.7L1022.7 176.2L1024.5 175.9L1025.8 175.3L1027.1 177.9L1028.4 174.9L1029.8 178.6L1031.4 171.7L1032.8 179.3L1034.4 175.3L1036.0 173.6L1037.8 175.9L1039.5 178.3L1041.1 178.9L1042.7 178.3L1044.4 175.7L1045.8 177.0L1047.5 174.6L1049.1 177.9L1050.4 177.6L1052.0 181.9L1053.7 179.3L1055.7 178.6L1057.7 174.9L1059.1 179.3L1060.0 177.3L1061.3 178.6L1063.3 178.3L1065.3 177.0L1067.3 179.2L1069.3 177.3L1070.7 177.9L1072.2 175.7L1073.7 177.5L1075.3 175.3L1077.0 171.7L1078.6 175.7L1080.0 177.5L1081.6 176.6L1083.3 174.3L1085.3 174.6L1086.6 173.5L1088.2 170.3L1090.0 173.0L1091.6 170.6L1093.3 169.9L1094.9 174.3L1096.6 172.6L1098.3 169.9L1099.5 159.9L1100.6 142.9L1102.3 141.3L1103.7 138.0L1105.3 139.3L1107.3 140.2L1109.3 140.6L1110.9 137.0L1112.6 146.0L1113.9 140.0L1115.7 145.3L1117.5 144.2L1118.8 145.3L1120.2 140.0L1121.5 136.0L1123.2 141.3L1125.0 142.9L1126.6 141.3L1128.2 143.3L1129.9 140.0L1131.5 139.3L1133.0 138.4L1134.6 142.6L1135.9 144.6L1137.5 138.0L1139.2 141.3L1140.6 144.0L1141.9 139.7L1143.6 136.0L1145.2 140.0L1147.2 142.0L1149.0 142.6L1150.5 142.6L1152.5 144.2L1153.9 145.0L1155.2 142.4L1156.5 146.6L1158.3 148.0L1159.6 150.0L1161.2 144.0L1162.8 150.4L1164.5 148.6L1165.9 149.6L1167.6 144.6L1168.9 148.0L1170.1 140.2L1171.6 149.6L1173.2 146.4L1174.5 147.7L1176.1 146.6L1177.4 145.3L1178.9 144.6L1180.5 151.3L1182.5 150.0L1183.8 152.0L1185.2 148.6L1186.8 153.3L1188.1 155.7L1189.2 160.6L1190.8 154.9L1192.2 162.6L1193.8 159.9L1195.4 164.6L1197.2 161.3L1198.5 158.6L1199.8 164.6L1201.5 166.6L1203.1 168.6L1204.2 171.3L1205.8 167.3L1207.1 170.3L1208.2 174.3L1209.8 168.6L1211.4 175.7L1213.1 171.9L1214.5 173.3L1216.1 175.9L1217.8 178.6L1219.8 173.9L1221.8 181.9L1223.8 177.5L1225.8 181.9L1227.5 182.3L1229.1 181.2L1230.7 175.9L1232.4 177.9L1233.8 178.6L1235.8 175.9L1237.8 171.9L1239.5 174.6L1241.1 175.9L1242.7 173.9L1244.4 173.0L1245.8 176.6L1247.5 171.3L1248.8 174.9L1250.4 171.9L1252.4 173.9L1254.1 171.3L1255.7 172.6L1257.1 174.9L1260.0 177.0L1261.6 174.3L1262.9 172.2L1264.7 177.0L1266.4 177.5L1268.0 176.6L1269.3 174.6L1270.9 175.7L1272.2 174.9L1273.6 178.3L1275.0 171.3L1276.6 172.6L1278.0 173.3L1279.3 162.6L1281.0 161.5L1282.4 160.6L1283.7 165.3L1285.3 157.6L1286.6 164.2L1288.2 162.3L1290.0 160.6L1291.3 157.9L1292.6 154.9L1294.2 158.6L1295.5 154.9L1297.0 154.3L1298.6 149.3L1300.0 155.7L1301.5 157.0L1302.9 150.0L1304.3 154.3L1306.2 151.3L1307.7 156.2L1309.0 151.3L1310.6 148.2L1312.2 145.6L1313.5 145.0L1314.9 149.3L1316.2 155.3L1317.9 151.7L1319.5 152.6L1321.0 150.9L1322.6 151.7L1324.2 153.0L1325.9 152.6L1327.9 149.3L1329.5 150.9L1331.0 157.6L1332.6 150.9L1333.6 155.7L1335.2 151.7L1336.8 156.6L1338.6 154.3L1340.2 153.3L1341.5 153.9L1343.2 150.4L1344.5 151.7L1345.9 150.4L1347.2 153.3L1348.5 153.9L1350.2 147.3L1351.6 143.3L1353.2 146.0L1354.5 146.6L1355.9 144.0L1357.5 151.7L1359.2 150.6L1360.5 150.9L1361.9 144.0L1363.5 147.3L1364.8 141.6L1366.3 136.6L1367.9 142.6L1369.2 141.6L1370.8 145.3L1372.2 138.6L1373.8 135.3L1375.6 138.0L1376.9 134.0L1378.2 131.7L1379.6 141.3L1380.9 152.6L1382.5 155.7L1383.8 165.9L1385.4 178.8L1386.8 177.0L1388.1 178.8L1389.8 179.7L1391.6 182.8L1393.4 181.9L1395.2 181.5L1396.5 179.9L1397.8 175.7L1399.2 173.9L1400.2 164.6L1401.8 167.7L1403.1 163.3L1404.5 166.6L1406.1 165.5L1407.5 172.2L1409.1 171.3L1410.5 169.5L1411.8 165.0L1413.4 163.9L1414.9 153.6L1416.5 163.7L1417.8 157.0L1419.4 154.9L1420.8 145.0L1422.5 148.6L1424.0 146.6L1425.5 142.0L1426.8 149.6L1428.4 165.3L1429.8 170.6L1431.1 180.6L1432.7 175.9L1434.2 185.2L1435.8 190.3L1437.4 189.0L1439.1 182.6L1440.4 177.9L1441.8 175.9L1443.1 159.9L1444.7 146.6L1446.2 153.3L1447.8 162.6L1449.1 167.9L1450.4 180.6L1451.7 177.3L1453.3 177.9L1454.8 194.3L1456.4 180.6L1457.7 181.2L1459.3 161.3L1462.3 193.1" stroke="#edb120"/>
<path d="M65.1 575.3L66.7 574.0L68.7 570.0L70.7 570.0L72.7 570.6L74.4 570.0L76.0 570.6L77.0 569.3L78.2 573.7L79.7 569.7L81.0 572.0L82.6 570.0L84.2 568.0L86.0 569.3L88.0 570.2L90.0 571.3L92.0 570.6L94.0 569.0L96.0 568.6L98.0 568.4L99.5 568.6L101.5 571.0L103.3 571.3L105.3 570.6L107.3 569.7L109.0 570.0L110.6 567.7L112.2 571.3L113.9 569.7L115.9 570.6L117.9 572.0L119.5 568.4L121.2 571.3L122.8 570.0L124.6 569.7L126.6 570.6L128.6 571.0L130.2 570.2L131.6 572.6L133.2 570.0L134.6 571.3L136.2 570.2L137.5 571.6L139.5 569.7L141.5 568.9L143.2 572.0L144.8 572.6L146.6 570.2L148.2 571.6L150.6 573.3L152.5 570.0L153.9 571.0L156.1 568.9L157.9 571.6L159.9 572.0L161.9 571.7L163.9 572.4L165.9 571.7L168.1 573.7L169.8 572.0L171.8 570.6L173.8 569.7L175.8 571.0L177.4 572.0L179.2 570.6L180.8 572.4L182.5 571.3L184.5 574.6L186.1 572.0L187.8 571.3L189.8 570.6L191.6 571.0L193.2 574.6L194.8 571.0L197.2 570.0L198.8 573.3L200.5 572.4L201.8 574.6L203.5 571.0L205.1 570.6L206.5 571.6L208.1 570.6L209.4 571.3L210.7 572.9L212.5 570.6L214.1 572.9L215.8 572.9L217.8 572.0L219.8 571.0L221.8 572.4L223.5 573.3L225.1 571.6L226.8 572.6L228.4 572.0L230.0 570.6L231.8 572.9L233.5 572.0L234.7 574.0L236.4 569.7L238.0 571.6L239.8 571.0L241.8 572.0L243.8 570.6L246.4 569.3L248.0 572.4L249.8 572.6L251.7 573.3L253.3 572.9L255.1 574.6L257.1 573.3L260.0 572.9L262.0 571.3L263.7 570.2L265.6 572.0L267.3 571.3L268.7 571.0L270.2 574.2L272.0 571.3L274.0 572.0L276.0 572.9L278.0 573.3L280.0 573.7L282.0 573.3L284.0 572.4L286.0 574.2L287.7 569.7L289.3 572.4L291.3 572.0L293.3 571.0L294.9 570.0L296.6 569.3L298.4 572.0L299.9 572.4L302.3 570.0L303.9 572.0L305.5 571.6L307.3 573.3L309.0 571.0L311.3 570.6L313.3 570.6L315.3 572.4L317.3 570.6L319.2 573.3L320.9 574.6L322.6 571.3L324.6 570.2L326.2 574.2L327.9 571.6L329.9 572.6L331.9 573.7L333.6 574.2L335.2 570.6L336.6 572.4L337.9 570.6L339.2 572.0L340.8 569.7L342.6 574.6L344.1 572.6L345.5 574.2L347.2 570.6L348.9 571.0L350.8 570.6L352.5 572.0L354.3 573.3L355.9 574.2L357.9 572.0L359.9 570.0L361.5 572.0L363.2 570.6L365.2 572.6L367.2 574.0L369.2 572.0L371.2 571.3L373.2 572.0L374.8 571.6L376.5 570.2L378.1 571.6L380.8 569.7L382.5 571.3L384.1 572.0L385.8 571.0L388.1 570.2L390.2 572.0L392.5 573.3L394.5 572.0L396.1 570.6L397.8 572.0L399.6 571.3L401.1 570.2L402.7 571.3L404.5 570.6L406.1 571.3L407.5 573.3L409.1 571.0L411.1 571.3L413.1 570.2L414.7 570.0L416.5 571.0L418.5 571.3L420.4 572.6L422.4 573.3L424.4 572.0L426.2 570.6L427.8 572.6L429.4 572.0L431.1 573.3L433.1 573.3L435.1 572.4L436.8 570.2L438.4 572.0L440.4 572.4L442.4 572.0L444.4 572.0L445.8 574.0L447.5 570.2L449.1 571.3L451.1 571.6L453.1 573.7L455.1 572.0L456.7 570.0L458.4 570.6L460.0 571.3L461.6 573.3L463.3 572.0L465.3 570.0L466.9 572.6L468.7 570.6L470.6 570.0L472.2 569.7L473.6 571.0L474.9 570.0L476.6 572.6L478.4 571.3L480.0 572.0L482.0 571.3L483.7 570.6L485.3 572.9L486.6 571.3L488.2 573.3L490.0 572.0L492.0 572.4L493.9 571.3L495.9 571.6L497.9 570.6L499.7 572.0L501.5 570.2L503.3 571.3L505.3 570.6L507.3 568.9L509.0 574.6L510.6 572.4L512.2 572.0L513.9 570.0L515.7 572.0L517.3 571.0L519.2 572.9L521.2 571.0L523.2 570.0L525.2 570.6L527.0 572.0L528.6 570.6L530.3 571.3L531.6 570.2L533.2 572.4L535.2 571.6L537.2 570.2L538.8 571.3L540.6 572.9L542.6 571.0L544.1 572.4L545.9 570.0L547.2 573.7L549.0 571.3L550.5 570.2L552.5 572.4L554.3 574.2L555.9 575.0L557.5 572.6L558.8 570.6L560.1 574.0L561.9 569.3L563.6 570.2L565.2 570.0L567.2 571.3L569.2 572.4L571.2 572.0L573.2 571.3L574.8 572.6L576.9 570.0L578.8 572.4L580.9 574.0L582.8 572.4L584.5 571.3L586.5 570.6L588.1 572.0L589.8 570.6L591.6 570.0L593.2 572.0L594.8 571.3L596.5 573.7L598.2 572.6L599.8 571.0L601.8 571.3L603.8 570.6L605.8 571.3L607.8 571.0L609.4 570.2L611.1 573.7L612.9 574.6L614.5 572.6L616.1 571.0L617.8 572.0L619.5 570.6L621.1 572.6L623.1 571.6L625.1 570.0L627.1 571.3L629.1 572.0L631.1 574.0L633.1 572.0L635.1 572.9L637.1 574.6L639.1 570.6L641.1 570.6L643.1 570.0L645.1 569.7L647.1 570.6L649.1 572.6L650.7 570.0L652.1 575.6L653.7 571.3L655.5 573.3L657.1 573.7L660.0 576.0L661.3 572.4L663.3 572.6L665.3 572.9L667.3 572.6L669.3 571.6L671.3 571.0L672.9 572.9L674.6 572.0L676.6 571.6L678.6 571.0L680.2 570.6L682.0 572.0L683.7 572.4L686.0 570.6L688.0 572.0L690.0 572.4L692.0 571.0L693.6 572.0L695.7 573.3L698.0 572.0L700.0 571.0L701.9 572.0L703.7 572.6L705.9 570.6L707.9 572.4L709.9 572.0L711.7 570.2L713.5 571.0L715.7 571.3L717.5 572.0L719.5 571.6L721.5 570.0L723.2 569.7L725.0 570.6L726.6 573.7L728.6 572.6L730.6 570.0L732.2 571.6L733.9 569.3L735.9 570.0L737.9 571.0L739.6 570.0L741.0 568.6L742.8 570.2L744.5 568.9L746.5 571.0L748.5 571.6L750.5 572.9L752.5 571.6L754.3 572.0L755.6 571.0L757.2 573.7L759.2 572.0L761.2 570.6L762.8 573.3L764.5 570.0L766.5 571.3L768.5 571.6L770.5 571.3L772.5 572.6L774.2 573.7L775.9 572.0L777.6 574.0L779.4 572.4L781.2 572.6L783.2 573.7L784.9 570.0L786.5 575.0L788.5 573.3L790.2 571.0L791.8 570.6L793.8 572.9L795.8 571.3L797.1 571.6L798.8 570.2L800.5 572.0L802.5 572.9L804.5 571.0L806.5 570.6L808.5 569.3L809.8 571.0L811.5 570.0L813.1 569.7L814.7 569.3L816.5 570.2L818.5 570.6L820.5 566.2L821.8 572.0L823.5 570.6L825.1 571.3L826.4 570.6L827.8 572.0L829.4 574.0L831.1 571.0L832.7 570.0L834.2 572.6L835.8 570.0L837.8 568.0L839.8 568.0L841.8 570.6L843.8 570.2L845.8 570.6L847.1 569.7L848.4 572.0L850.0 564.4L851.7 562.6L853.7 563.3L855.5 564.4L857.1 562.6L858.4 561.3L860.0 562.6L861.6 565.0L863.3 563.3L865.3 562.3L866.9 562.9L868.7 560.0L870.4 562.3L872.0 560.6L874.0 559.7L876.2 558.9L878.0 560.6L880.0 561.3L882.0 559.7L884.0 558.6L885.6 560.0L886.6 557.0L888.2 561.0L890.0 558.0L892.0 558.6L893.6 559.3L895.3 558.0L897.0 560.6L898.6 558.6L900.6 559.3L902.6 560.0L904.6 558.4L906.6 557.3L907.7 556.2L909.3 558.6L911.3 557.0L913.0 556.6L914.9 558.4L916.6 557.3L918.6 555.7L920.6 555.3L922.6 556.0L925.0 554.4L926.6 557.0L928.6 556.0L930.6 554.4L932.6 556.0L934.6 555.3L936.6 556.6L938.6 556.0L940.6 554.4L942.6 555.7L944.5 554.4L946.5 554.9L948.5 555.7L950.5 554.6L951.9 552.6L953.9 554.0L955.9 554.0L957.9 552.2L959.9 552.6L961.9 551.7L963.9 550.4L965.2 550.0L967.2 551.3L969.2 550.0L971.2 549.0L973.2 549.6L975.2 550.9L977.2 550.9L979.4 552.6L981.2 547.3L982.5 550.4L984.5 549.3L986.5 548.6L988.5 549.3L990.5 550.0L992.5 550.0L994.2 552.0L996.1 547.7L997.8 550.0L999.1 551.7L1001.1 549.0L1003.1 549.6L1004.9 547.7L1006.5 550.9L1008.1 548.0L1010.5 546.0L1012.5 546.6L1014.5 547.3L1016.1 547.3L1017.8 548.2L1019.1 543.3L1020.9 539.7L1022.5 541.0L1024.5 540.0L1026.2 541.0L1027.8 539.7L1029.8 539.7L1031.4 542.6L1033.1 540.0L1035.1 540.6L1037.1 540.2L1039.1 541.0L1040.8 538.9L1042.7 539.7L1044.4 541.3L1046.4 539.3L1048.0 538.9L1049.8 541.0L1051.5 542.0L1053.1 539.7L1055.1 541.0L1057.1 543.3L1058.7 541.6L1060.0 542.6L1061.8 541.9L1063.6 540.4L1065.8 542.3L1068.0 541.4L1070.2 540.4L1072.4 541.1L1074.6 540.0L1076.3 538.5L1078.2 540.4L1080.4 540.0L1082.6 539.4L1084.8 539.7L1086.9 537.9L1088.4 538.5L1090.3 539.7L1092.0 537.5L1093.5 536.8L1094.9 539.0L1096.4 536.0L1098.1 531.0L1099.3 513.5L1100.5 494.6L1101.9 491.4L1103.7 489.9L1105.4 492.4L1106.9 491.6L1108.3 489.9L1110.2 493.8L1112.1 490.5L1113.9 492.8L1116.0 492.4L1117.9 491.9L1119.7 491.6L1121.4 494.9L1123.3 493.8L1125.5 493.1L1127.2 494.9L1129.1 494.6L1131.3 495.3L1133.1 495.7L1135.0 492.8L1136.9 494.3L1138.6 494.9L1140.3 495.3L1142.2 493.8L1143.7 498.9L1145.2 497.2L1146.6 500.4L1148.8 501.1L1150.5 501.8L1152.4 501.1L1153.9 505.9L1155.3 509.1L1156.8 506.2L1158.7 507.7L1160.4 510.3L1162.6 512.0L1164.5 511.3L1166.3 509.8L1168.4 512.8L1169.9 514.9L1171.8 510.9L1173.5 514.9L1175.7 514.6L1177.6 516.1L1179.4 519.3L1181.5 522.2L1183.7 522.9L1185.9 524.8L1187.8 526.9L1189.5 530.2L1191.4 529.5L1193.2 533.6L1195.4 534.6L1197.5 535.0L1199.7 535.6L1201.9 537.1L1203.8 539.0L1205.6 538.2L1207.7 540.8L1209.9 539.0L1212.1 540.8L1214.3 542.3L1216.0 543.8L1217.2 545.8L1219.0 542.9L1220.8 544.8L1222.7 545.8L1224.5 543.3L1225.9 545.2L1228.1 542.9L1229.6 544.8L1231.5 543.8L1233.5 542.6L1235.4 541.4L1237.6 539.7L1239.8 541.1L1242.0 542.3L1243.7 539.7L1245.6 540.0L1247.8 539.0L1250.0 539.4L1252.1 537.5L1253.9 537.1L1255.8 535.6L1258.0 536.5L1260.0 535.6L1261.6 535.3L1263.2 537.2L1265.1 536.1L1267.2 535.6L1269.3 535.3L1271.2 535.0L1273.1 534.0L1274.7 532.4L1276.3 535.0L1277.6 533.7L1278.9 513.6L1280.5 512.5L1282.1 514.5L1283.7 510.9L1285.3 512.0L1286.9 509.3L1288.5 507.7L1289.6 510.0L1291.2 505.6L1292.8 506.4L1294.4 504.0L1296.0 501.6L1297.2 499.2L1298.8 500.8L1300.4 498.4L1302.0 496.8L1303.6 496.5L1305.2 496.5L1306.8 495.2L1308.4 494.9L1310.0 493.9L1311.6 493.3L1313.2 493.9L1314.8 495.6L1316.4 491.2L1318.0 489.6L1320.1 489.6L1321.7 492.0L1323.3 495.2L1324.9 497.6L1326.5 496.0L1328.1 493.6L1329.3 491.2L1330.8 496.0L1332.4 498.1L1334.0 496.5L1335.6 498.4L1337.2 494.4L1338.8 496.0L1340.9 497.6L1342.5 501.3L1344.1 503.6L1346.2 504.8L1348.1 505.2L1350.0 504.8L1351.3 494.4L1352.9 491.7L1354.5 497.6L1356.1 498.4L1357.7 498.4L1359.3 501.6L1360.9 504.5L1362.8 501.3L1364.4 502.9L1366.0 504.8L1368.1 502.9L1370.2 500.8L1372.1 500.8L1374.0 501.6L1375.6 500.0L1376.9 495.6L1378.5 500.0L1380.1 508.1L1381.7 515.3L1383.6 520.5L1385.2 524.1L1386.8 525.7L1388.5 528.1L1390.0 526.0L1391.7 526.5L1393.2 524.9L1394.8 522.5L1396.1 519.3L1397.4 511.2L1399.0 502.4L1400.6 494.4L1402.2 488.0L1403.3 484.8L1404.9 484.3L1406.2 483.7L1407.7 489.6L1409.3 494.9L1410.9 489.6L1412.5 488.0L1413.8 487.2L1415.0 479.2L1416.5 486.8L1418.4 491.0L1420.3 490.2L1422.2 491.5L1423.7 489.6L1425.4 483.6L1427.3 486.8L1428.8 491.0L1430.1 492.5L1432.6 503.5L1434.5 495.3L1435.8 491.5L1437.3 492.9L1439.6 480.7L1441.5 475.1L1443.0 463.7L1444.7 446.7L1446.2 474.5L1447.8 476.4L1449.1 477.3L1450.6 493.4L1452.1 496.3L1453.6 493.4L1454.8 495.3L1456.3 476.4L1457.6 480.2L1459.5 467.9L1461.0 482.6L1462.5 495.3" stroke="#7e2f8e"/>
<path d="M64.9 67.3L66.4 79.5L69.3 38.7L70.8 80.1L72.2 77.2L74.0 78.9L75.7 83.6L77.2 85.7L78.6 83.0L81.0 63.8L82.7 79.5L84.2 73.7L85.6 78.9L87.0 88.2L89.1 73.1L90.0 71.0L91.4 82.4L93.0 69.8L94.9 82.4L97.5 95.2L100.3 73.1L101.9 88.8L104.8 81.2L106.3 86.5L107.8 70.2L110.1 81.2L111.8 84.7L113.3 86.5L115.1 97.0L117.7 81.2L119.6 78.3L120.9 85.3L122.5 66.3L123.8 88.2L126.4 80.1L128.1 84.2L129.9 64.0L131.3 85.9L132.8 93.8L134.9 83.0L137.4 80.1L139.8 76.6L141.8 57.4L143.0 84.2L144.8 77.8L146.2 78.9L149.1 72.5L150.6 89.4L153.2 81.2L154.9 94.6L156.4 81.8L158.4 79.5L160.7 81.2L162.2 71.3L163.9 87.3L166.6 74.2L168.3 67.0L169.7 83.6L171.2 76.6L174.7 84.7L177.0 90.6L178.6 71.0L181.1 77.8L182.9 88.2L184.6 81.2L186.0 64.0L187.3 87.3L190.4 78.9L193.3 84.2L194.7 67.8L196.3 87.9L198.0 82.4L200.7 86.5L202.1 77.8L203.8 83.6L206.7 72.5L208.5 76.6L210.0 77.8L211.2 77.8L212.6 84.2L214.1 81.2L215.4 67.0L216.8 89.4L218.4 72.5L219.9 77.8L221.7 76.0L222.8 76.6L224.2 87.1L225.5 83.8L227.2 90.0L229.8 81.2L231.6 77.2L233.3 85.9L236.0 67.3L237.9 81.0L239.3 80.1L241.7 71.3L243.8 78.3L245.2 77.8L246.7 87.1L247.8 87.7L249.6 78.3L251.9 83.0L254.2 87.1L256.8 94.0L258.2 64.7L259.7 87.1L262.4 77.8L264.1 83.8L265.7 81.2L267.1 87.3L268.6 73.7L270.1 93.8L272.9 71.9L274.5 61.7L275.9 92.7L278.7 77.2L280.2 84.7L281.9 71.9L283.4 91.1L286.3 74.2L287.8 64.9L289.4 81.8L290.9 84.2L292.2 95.0L295.2 68.4L296.8 76.6L298.2 89.2L299.4 78.3L301.1 93.1L303.8 81.2L305.5 75.4L306.9 93.7L309.9 76.6L311.3 73.7L312.8 85.9L314.2 89.6L315.8 70.8L317.1 68.8L318.9 91.7L320.4 87.1L321.8 87.7L323.0 92.3L324.6 57.7L325.9 77.8L327.6 78.3L329.0 83.0L330.8 65.2L332.3 84.7L335.0 97.5L336.6 74.5L338.1 83.0L339.5 83.0L341.0 76.6L342.4 76.6L343.9 89.6L345.4 81.2L346.8 68.8L348.2 92.3L349.8 73.3L351.3 83.0L352.7 76.6L354.4 75.7L355.6 64.6L357.0 81.2L358.5 88.2L360.0 84.7L361.4 70.8L362.9 71.9L364.4 90.0L366.1 66.1L367.6 61.8L369.1 83.0L371.6 84.7L373.3 67.3L374.6 83.6L376.3 89.2L379.2 81.8L380.7 78.3L382.1 85.9L383.3 83.0L384.9 99.3L386.6 76.6L387.9 90.0L389.6 63.2L391.2 78.9L392.6 91.7L394.9 84.2L396.7 83.6L398.2 84.2L399.8 70.2L401.5 81.2L402.9 86.5L404.2 71.7L405.8 73.7L407.2 87.1L408.7 79.5L410.3 83.6L411.8 87.1L413.2 86.5L414.5 97.8L416.1 67.3L417.9 74.2L419.2 84.2L420.6 83.0L422.0 76.6L423.5 80.1L425.0 78.9L426.4 74.8L428.1 78.9L429.6 81.8L430.8 79.5L432.2 87.1L433.7 94.0L435.5 80.7L436.9 84.2L438.6 78.9L440.1 77.8L441.5 78.9L442.9 80.3L445.6 80.1L447.0 90.6L448.5 75.4L450.0 75.4L451.4 77.8L452.9 83.0L454.6 83.6L455.9 69.6L457.4 90.6L459.0 79.5L460.4 80.1L461.9 87.3L463.3 73.7L464.8 71.9L466.2 87.1L467.5 73.1L469.0 92.3L470.6 68.8L472.0 73.7L473.6 74.2L474.9 76.6L476.5 76.6L477.9 93.5L479.4 87.7L480.8 92.9L482.3 74.8L483.8 93.8L485.5 84.7L486.9 79.8L488.4 84.7L489.9 89.6L491.4 82.4L492.8 81.2L494.5 80.1L495.8 87.1L497.4 71.9L498.8 74.2L500.3 78.9L501.7 83.8L503.2 75.4L504.8 90.3L506.2 83.6L507.7 83.0L509.1 71.0L510.0 76.6L510.6 88.2L512.1 72.2L513.5 91.1L514.9 84.7L516.4 83.8L519.1 81.8L520.8 90.3L522.3 78.9L523.7 78.9L525.1 84.7L526.6 88.2L528.0 77.8L529.6 90.3L531.1 77.2L532.6 87.1L534.0 80.7L535.6 84.2L538.0 82.4L540.0 78.3L541.7 85.7L544.0 78.9L545.9 67.8L547.3 76.6L548.8 90.3L550.3 78.3L551.9 78.7L553.7 81.2L554.8 81.2L556.4 86.5L557.8 87.1L559.3 88.2L560.8 74.6L562.4 84.7L563.8 85.3L565.1 87.1L566.7 77.4L568.0 84.7L569.6 77.8L571.1 85.7L572.5 86.5L574.0 72.5L575.5 90.8L577.0 68.4L578.5 78.9L579.6 77.2L581.3 83.0L582.8 87.1L584.2 89.2L585.8 64.7L587.5 74.2L588.6 71.3L590.1 82.4L591.5 87.1L593.0 82.4L594.4 86.8L596.0 82.4L597.3 81.2L598.7 90.0L600.3 89.4L602.0 69.6L603.5 82.4L604.9 70.2L606.3 87.1L607.8 77.2L609.3 89.2L610.7 83.0L612.2 88.2L613.8 67.5L615.2 71.3L616.8 87.9L618.3 78.3L619.7 87.1L621.2 77.5L622.6 89.6L624.1 84.7L625.6 69.6L627.0 83.0L628.6 90.0L630.0 84.2L631.5 93.1L633.2 80.7L634.6 80.1L636.1 81.2L637.5 78.3L638.9 71.7L640.4 91.4L641.8 78.3L643.4 89.6L645.1 83.0L646.8 77.8L648.4 78.3L649.8 80.7L650.9 76.6L652.1 98.7L653.8 81.2L655.2 71.9L656.7 78.9L658.5 88.2L660.0 90.6L661.2 87.3L662.6 89.4L664.1 88.8L665.5 94.0L667.0 91.1L668.4 74.0L669.9 83.0L671.4 58.2L672.8 83.6L674.2 85.3L676.0 90.8L677.5 90.0L679.0 84.7L680.4 78.9L681.8 83.0L683.3 77.8L685.0 74.6L686.8 74.8L688.0 78.3L689.4 88.2L690.9 81.2L692.4 80.7L693.8 78.9L695.2 97.0L696.7 76.6L697.9 85.9L699.4 77.2L700.8 76.0L702.3 87.1L704.0 74.6L705.4 83.0L706.8 84.2L708.3 87.1L709.8 83.0L711.2 85.3L712.8 98.9L714.3 70.8L715.7 78.9L717.1 77.2L718.6 87.1L720.0 87.7L721.5 84.2L723.1 88.8L724.6 63.5L726.1 80.1L727.5 85.9L728.9 83.6L730.5 91.4L732.2 77.8L733.6 78.7L735.1 81.0L736.6 78.3L737.8 81.2L739.4 67.3L740.7 57.7L742.1 73.7L743.6 85.5L745.4 73.7L746.8 81.2L748.2 85.9L749.7 85.7L751.1 87.1L752.6 84.5L754.3 88.2L755.5 87.1L756.9 81.8L758.4 81.2L759.8 83.8L761.3 84.2L762.8 92.5L764.5 72.5L766.0 76.6L767.4 84.2L768.9 97.5L770.6 87.1L772.0 84.5L773.5 85.9L775.3 81.2L777.0 77.8L778.6 71.0L780.0 70.8L781.5 74.2L783.2 94.6L784.8 81.2L786.6 98.5L788.1 79.8L789.5 84.2L791.0 78.9L792.4 79.5L793.9 72.9L795.4 78.9L796.8 84.7L798.4 86.5L799.8 82.4L801.3 88.2L802.7 81.2L805.6 62.0L807.0 81.2L808.5 81.8L810.0 87.1L811.4 74.6L812.9 80.1L814.4 90.0L816.1 71.0L817.6 78.9L819.0 91.4L820.7 70.2L822.0 68.4L823.4 87.1L824.8 90.8L826.5 79.8L827.8 87.3L829.2 79.8L830.7 88.2L832.1 75.2L833.6 76.0L835.3 87.9L838.0 77.8L839.7 69.4L841.2 81.2L842.6 81.8L844.0 74.6L845.5 82.4L846.9 90.8L848.7 77.8L850.2 76.6L851.6 82.4L853.1 89.4L854.6 90.8L856.0 89.4L857.8 81.2L858.9 76.6L860.3 64.1L861.8 88.2L863.3 84.2L864.7 83.8L866.2 87.1L867.6 88.2L869.0 91.1L870.6 75.2L872.1 87.1L873.5 90.0L875.0 91.1L876.6 85.9L877.9 93.5L879.5 70.5L881.0 83.6L882.2 85.3L884.0 85.9L885.4 87.7L886.9 83.6L888.3 90.6L889.8 93.2L891.5 85.9L892.9 84.7L894.4 79.8L895.8 84.7L897.1 96.2L898.7 74.2L900.0 61.2L901.6 90.0L903.2 77.2L904.6 74.0L906.1 84.7L907.6 102.0L909.0 87.1L910.4 85.9L911.9 84.7L913.3 85.9L914.8 79.5L916.2 86.8L917.7 80.1L919.1 81.2L920.6 81.8L922.1 87.1L923.5 83.6L925.1 83.3L926.5 92.9L928.0 78.9L929.5 93.8L931.1 76.6L932.5 62.6L934.0 89.6L935.5 84.2L936.9 83.0L938.5 82.4L939.9 76.9L941.4 92.9L942.8 97.0L944.5 81.6L945.7 87.1L947.2 84.2L948.6 96.0L950.3 76.0L951.7 73.7L953.2 91.7L954.6 72.9L956.2 92.3L957.7 81.8L959.1 92.3L960.0 81.2L961.8 94.0L963.5 89.4L965.2 84.7L966.6 80.1L967.9 87.7L969.3 88.2L970.8 90.6L972.3 97.0L974.0 77.8L975.7 80.1L977.1 85.3L978.6 80.1L979.8 84.5L981.2 74.2L982.7 88.8L984.2 90.6L985.6 74.0L987.1 75.4L988.6 93.8L990.0 80.7L991.4 84.7L993.0 89.4L994.4 93.8L996.1 70.5L997.5 84.7L999.0 87.3L1000.5 76.6L1001.9 78.9L1003.4 74.0L1004.8 88.2L1006.4 79.8L1008.0 88.8L1009.5 92.9L1010.9 93.5L1012.4 87.7L1013.6 99.3L1015.1 91.7L1016.5 91.1L1017.9 93.8L1019.6 85.7L1021.1 87.1L1022.9 90.0L1024.6 84.7L1025.6 81.8L1027.1 95.6L1028.7 87.1L1029.9 91.7L1031.4 81.2L1032.8 84.7L1034.5 80.3L1035.9 82.4L1037.5 88.2L1039.0 89.4L1040.4 90.3L1041.9 89.4L1043.3 64.7L1044.8 88.2L1046.2 85.3L1047.7 84.7L1049.1 80.7L1050.6 94.0L1052.0 83.8L1053.5 90.6L1054.9 92.9L1056.4 83.6L1058.1 71.9L1059.6 95.0L1061.1 83.6L1062.7 77.8L1064.2 81.2L1065.6 90.6L1066.9 96.4L1068.5 88.8L1070.0 84.2L1071.5 80.1L1073.0 78.7L1074.5 80.1L1075.9 81.2L1077.4 87.1L1078.8 78.7L1080.3 92.9L1081.7 90.6L1083.2 71.7L1084.6 92.3L1086.1 84.5L1087.5 87.1L1088.9 81.8L1090.4 87.7L1092.0 80.3L1093.3 84.7L1094.7 87.7L1096.3 80.3L1097.8 83.6L1099.2 83.0L1100.7 84.7L1102.1 78.3L1103.6 77.5L1105.0 77.8L1106.5 81.2L1107.9 82.2L1110.0 81.2L1111.2 80.7L1112.6 92.9L1114.1 78.7L1115.6 83.6L1117.0 90.6L1118.4 93.2L1119.9 80.3L1121.4 83.6L1122.8 84.2L1124.2 81.8L1125.7 91.7L1127.2 81.6L1128.6 85.7L1130.2 85.9L1131.5 84.7L1133.3 85.0L1134.7 83.0L1136.2 80.7L1137.6 83.0L1139.1 80.1L1140.6 78.0L1142.0 77.2L1143.5 77.8L1144.9 83.6L1146.5 82.2L1147.8 77.8L1149.4 80.1L1150.8 80.3L1152.3 80.1L1153.7 78.9L1155.2 78.3L1156.8 82.4L1158.3 73.1L1159.7 80.7L1161.2 80.7L1162.8 81.2L1164.2 82.2L1165.7 78.9L1167.1 72.7L1168.6 78.9L1169.7 74.0L1171.7 83.0L1173.2 77.2L1174.6 80.1L1176.2 70.8L1177.5 70.2L1179.3 70.0L1180.7 76.6L1182.2 79.7L1183.6 70.8L1184.9 64.6L1186.5 72.5L1187.8 53.6L1189.2 70.8L1190.7 59.5L1192.1 73.1L1193.8 76.9L1195.4 74.8L1196.8 72.5L1198.2 71.0L1199.7 69.6L1201.1 80.1L1202.6 77.8L1204.1 84.5L1205.5 60.6L1207.0 77.2L1208.6 67.5L1209.9 67.0L1211.3 80.1L1212.8 83.3L1214.2 83.3L1215.6 78.9L1217.1 78.0L1218.9 79.8L1220.3 54.2L1221.8 83.6L1223.2 93.5L1224.7 80.7L1226.1 88.8L1227.6 84.2L1229.0 84.5L1230.5 81.2L1232.3 74.2L1233.7 70.8L1235.2 86.5L1236.7 81.8L1238.1 78.9L1239.3 76.3L1241.0 77.2L1242.4 71.3L1243.9 78.3L1245.4 83.0L1246.8 84.2L1248.3 85.3L1249.8 80.1L1251.3 76.9L1252.7 82.4L1254.2 80.1L1255.6 84.7L1257.1 77.2L1258.5 91.7L1260.0 91.1L1261.4 89.4L1263.0 72.2L1264.7 89.4L1266.1 91.7L1267.6 87.7L1269.1 76.6L1270.5 77.8L1272.0 78.9L1273.4 89.4L1274.9 68.4L1276.3 75.4L1277.8 83.6L1279.2 88.0L1281.0 81.8L1282.5 74.8L1283.9 85.3L1285.3 81.8L1286.8 89.4L1288.2 76.3L1289.7 89.2L1291.1 88.8L1292.6 85.9L1294.1 87.7L1295.5 85.9L1297.0 81.2L1298.4 80.3L1300.0 85.9L1301.5 93.8L1302.9 83.0L1304.2 76.3L1305.8 88.2L1307.2 90.0L1308.7 87.1L1310.3 76.6L1311.8 84.2L1313.2 78.9L1314.7 84.7L1316.1 91.7L1317.7 82.6L1319.0 94.4L1320.6 84.2L1322.0 84.7L1323.5 89.4L1325.0 93.8L1326.4 88.2L1327.8 89.4L1329.3 90.0L1330.7 87.1L1332.2 83.6L1333.6 83.8L1335.3 80.7L1336.9 89.4L1338.3 90.3L1339.8 91.1L1341.5 80.1L1342.9 78.9L1344.1 79.2L1345.6 73.7L1347.0 70.5L1348.5 74.8L1350.0 75.4L1351.7 79.2L1353.2 78.9L1354.6 68.4L1356.1 75.2L1357.5 77.2L1359.0 78.0L1360.5 80.3L1361.9 67.8L1363.3 78.3L1364.8 67.6L1366.2 75.4L1367.7 77.2L1369.2 65.5L1370.6 84.2L1372.2 63.5L1373.8 71.7L1375.3 74.2L1376.8 72.5L1378.2 66.5L1379.7 70.2L1381.1 72.2L1382.6 73.7L1384.0 82.4L1385.8 74.5L1387.2 88.2L1388.7 87.1L1389.8 87.7L1391.4 80.7L1392.8 81.8L1394.3 91.1L1395.9 79.5L1397.2 85.9L1398.6 97.3L1400.1 83.0L1401.5 97.0L1403.0 82.6L1404.8 102.2L1406.7 98.1L1408.1 95.2L1409.7 96.4L1412.0 85.0L1413.5 92.9L1414.9 88.8L1416.6 104.9L1418.2 87.1L1419.5 86.5L1421.1 72.5L1422.5 81.2L1424.2 84.7L1425.6 84.7L1427.1 78.9L1428.5 78.3L1430.0 81.8L1431.4 91.7L1432.7 91.1L1434.1 96.4L1435.6 99.6L1437.2 102.2L1438.8 87.1L1440.2 87.7L1441.7 96.4L1443.1 92.3L1444.6 91.1L1446.1 78.9L1447.5 84.7L1449.0 89.4L1450.4 95.2L1451.9 89.6L1453.3 90.0L1454.7 94.0L1456.5 98.9L1458.0 97.0L1459.4 83.8L1460.9 85.9L1462.4 94.0" stroke="#77ac30"/>
</g>
<g font-size="28" fill="#262626" stroke="#262626" stroke-width="0.15">
<text transform="translate(64.90,650.7) scale(1,1.075)" text-anchor="middle">0</text>
<text transform="translate(241.75,650.7) scale(1,1.075)" text-anchor="middle">20</text>
<text transform="translate(418.60,650.7) scale(1,1.075)" text-anchor="middle">40</text>
<text transform="translate(595.45,650.7) scale(1,1.075)" text-anchor="middle">60</text>
<text transform="translate(772.30,650.7) scale(1,1.075)" text-anchor="middle">80</text>
<text transform="translate(949.15,650.7) scale(1,1.075)" text-anchor="middle">100</text>
<text transform="translate(1126.00,650.7) scale(1,1.075)" text-anchor="middle">120</text>
<text transform="translate(1302.85,650.7) scale(1,1.075)" text-anchor="middle">140</text>
<text transform="translate(1479.70,650.7) scale(1,1.075)" text-anchor="middle">160</text>
<text transform="translate(56.1,626.25) scale(1,1.075)" text-anchor="end">-3</text>
<text transform="translate(56.1,525.24) scale(1,1.075)" text-anchor="end">-2</text>
<text transform="translate(56.1,424.23) scale(1,1.075)" text-anchor="end">-1</text>
<text transform="translate(56.1,323.23) scale(1,1.075)" text-anchor="end">0</text>
<text transform="translate(56.1,222.22) scale(1,1.075)" text-anchor="end">1</text>
<text transform="translate(56.1,121.21) scale(1,1.075)" text-anchor="end">2</text>
<text transform="translate(56.1,20.20) scale(1,1.075)" text-anchor="end">3</text>
</g>
<text transform="translate(771.8,686.5) scale(1.07,1)" text-anchor="middle" font-size="29.6" font-weight="bold" font-style="italic" fill="#262626" stroke="#262626" stroke-width="0.35">t/h</text>
<text transform="translate(20.3,313.6) rotate(-90) scale(1.07,1)" text-anchor="middle" font-size="29.6" font-weight="bold" font-style="italic" fill="#262626" stroke="#262626" stroke-width="0.35">dB</text>
<rect x="87.1" y="227.55" width="232.6" height="140.1" fill="#fff" stroke="#262626" stroke-width="1.6"/>
<path d="M92.8 242.9H135.9" stroke="#0072bd" stroke-width="1.7"/>
<text x="138.4" y="250.5" font-size="22.8" fill="#000" stroke="#000" stroke-width="0.18">Peak value</text>
<path d="M92.8 270.2H135.9" stroke="#d95319" stroke-width="1.7"/>
<text x="138.4" y="277.9" font-size="22.8" fill="#000" stroke="#000" stroke-width="0.18">Average amplitude</text>
<path d="M92.8 297.6H135.9" stroke="#edb120" stroke-width="1.7"/>
<text x="138.4" y="305.2" font-size="22.8" fill="#000" stroke="#000" stroke-width="0.18">Kurtosis</text>
<path d="M92.8 325.0H135.9" stroke="#7e2f8e" stroke-width="1.7"/>
<text x="138.4" y="332.6" font-size="22.8" fill="#000" stroke="#000" stroke-width="0.18">RMS</text>
<path d="M92.8 352.3H135.9" stroke="#77ac30" stroke-width="1.7"/>
<text x="138.4" y="359.9" font-size="22.8" fill="#000" stroke="#000" stroke-width="0.18">Peak factor</text>
<text transform="translate(998.6,121.9) scale(1,1.065)" font-size="28" fill="#000" stroke="#000" stroke-width="0.18">116h</text>
<path d="M1055.0 128.4L1086.3 161.6" stroke="#000" stroke-width="1.8" fill="none"/>
<path d="M1094.6 170.4L1078.0 163.0L1086.3 161.6L1088.2 153.4Z" fill="#000"/>
<text transform="translate(993.6,301.6) scale(1,1.065)" font-size="28" fill="#000" stroke="#000" stroke-width="0.18">116h</text>
<path d="M1050.0 307.5L1090.8 357.4" stroke="#000" stroke-width="1.8" fill="none"/>
<path d="M1098.5 366.8L1082.4 358.2L1090.8 357.4L1093.3 349.4Z" fill="#000"/>
<text transform="translate(990.1,471) scale(1,1.065)" font-size="28" fill="#000" stroke="#000" stroke-width="0.18">116h</text>
<path d="M1046.0 476.8L1087.0 527.4" stroke="#000" stroke-width="1.8" fill="none"/>
<path d="M1094.6 536.8L1078.6 528.2L1087.0 527.4L1089.5 519.3Z" fill="#000"/>
</svg>
</body></html>
